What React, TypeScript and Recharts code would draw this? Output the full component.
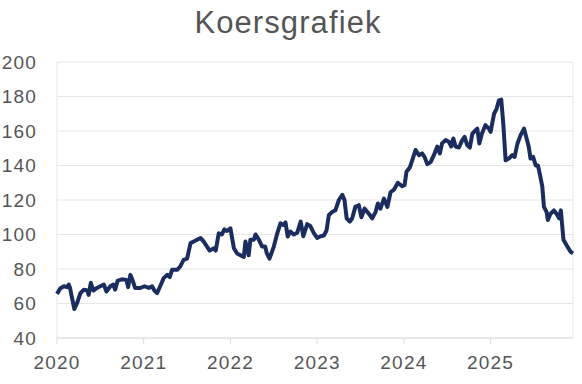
import { CartesianGrid, Line, LineChart, XAxis, YAxis } from "recharts";

// decimal years
const dates = [
  2020.0, 2020.04, 2020.08, 2020.115, 2020.135, 2020.15, 2020.17, 2020.2, 2020.23, 2020.27, 2020.31, 2020.35, 2020.365,
  2020.39, 2020.42, 2020.46, 2020.5, 2020.54, 2020.57, 2020.615, 2020.65, 2020.67, 2020.7, 2020.75, 2020.8, 2020.82,
  2020.846, 2020.877, 2020.9, 2020.96, 2021.008, 2021.058, 2021.096, 2021.123, 2021.154, 2021.19, 2021.23, 2021.27,
  2021.3, 2021.327, 2021.385, 2021.42, 2021.46, 2021.5, 2021.54, 2021.577, 2021.615, 2021.654, 2021.69, 2021.73,
  2021.76, 2021.81, 2021.83, 2021.865, 2021.9, 2021.93, 2021.96, 2022.0, 2022.04, 2022.077, 2022.115, 2022.154,
  2022.173, 2022.21, 2022.23, 2022.27, 2022.29, 2022.327, 2022.365, 2022.4, 2022.42, 2022.45, 2022.5, 2022.54,
  2022.577, 2022.61, 2022.635, 2022.66, 2022.69, 2022.73, 2022.77, 2022.81, 2022.84, 2022.885, 2022.92, 2022.96,
  2023.0, 2023.04, 2023.077, 2023.108, 2023.135, 2023.173, 2023.21, 2023.25, 2023.29, 2023.315, 2023.34, 2023.377,
  2023.404, 2023.44, 2023.48, 2023.51, 2023.546, 2023.596, 2023.635, 2023.673, 2023.7, 2023.73, 2023.77, 2023.81,
  2023.846, 2023.885, 2023.93, 2023.98, 2024.008, 2024.03, 2024.07, 2024.096, 2024.135, 2024.173, 2024.21, 2024.238,
  2024.27, 2024.308, 2024.346, 2024.385, 2024.415, 2024.44, 2024.48, 2024.52, 2024.546, 2024.57, 2024.596, 2024.635,
  2024.673, 2024.7, 2024.73, 2024.76, 2024.79, 2024.827, 2024.846, 2024.87, 2024.9, 2024.94, 2024.98, 2025.0, 2025.04,
  2025.07, 2025.096, 2025.123, 2025.146, 2025.173, 2025.21, 2025.25, 2025.277, 2025.31, 2025.346, 2025.385, 2025.415,
  2025.44, 2025.46, 2025.49, 2025.52, 2025.546, 2025.57, 2025.596, 2025.615, 2025.646, 2025.66, 2025.69, 2025.73,
  2025.76, 2025.79, 2025.81, 2025.84, 2025.885, 2025.92, 2025.95,
];

const prices = [
  65.6, 68.9, 70, 69.5, 71, 69, 64, 56.8, 60, 66, 68, 67.5, 65,
  72, 67.5, 69, 70, 71, 67, 70, 71, 68, 73.3, 74, 73.7, 69.5,
  76.6, 72.7, 69, 69, 70, 69, 70, 67.5, 66, 70, 74.7, 76.6,
  75.3, 79.5, 79.5, 81.4, 85.3, 86, 95, 96, 97, 98, 96, 93,
  90.7, 92, 90.7, 100.7, 100, 103, 102, 103.6, 92, 89, 88, 87,
  96, 88, 97, 97, 100, 97, 93, 93, 89, 86, 93, 100.7,
  106.5, 105.5, 107, 98.8, 101.7, 100, 101, 107.5, 99, 106, 105, 101,
  98, 99, 99.4, 102.3, 111.3, 113, 114, 120, 123, 120, 109.4, 107.5,
  109.4, 116, 117, 110, 115, 112, 109.4, 113, 118, 115, 120.8, 116,
  124.5, 126, 130, 128, 128.7, 136.4, 139, 143, 149, 146, 147, 145,
  140.8, 142, 146, 151, 147, 152.8, 154.7, 153.7, 151, 155.7, 151, 150.4,
  154.7, 156.6, 151.8, 150.4, 158.5, 160.5, 161.4, 152.8, 158.5, 163.4, 161.4, 159.5, 170,
  173, 177.8, 178.2, 164.3, 143, 144, 146, 145, 152.8, 157.6, 161.4, 155.7,
  150.8, 144, 145, 140, 140, 134.4, 127.7, 116, 113, 108.4, 112, 114,
  112, 109.4, 114, 96.9, 93, 90.1, 89.1,
];

const yearTicks = [2020, 2021, 2022, 2023, 2024, 2025];
const valueTicks = [40, 60, 80, 100, 120, 140, 160, 180, 200];

const data = dates.map((t, i) => ({ t, price: prices[i] }));

const font = "'Liberation Sans', Arial, sans-serif";
const tickStyle = { fill: "#555", fontSize: 19, fontFamily: font, letterSpacing: 1.2 };

export default function App() {
  return (
    <div style={{ position: "absolute", left: 0, top: 0, width: 582, height: 384, background: "#fff" }}>
      <div
        style={{
          position: "absolute",
          left: 0,
          top: 5,
          width: 576,
          textAlign: "center",
          fontFamily: font,
          fontSize: 31,
          letterSpacing: 1.1,
          lineHeight: "36px",
          color: "#555",
        }}
      >
        Koersgrafiek
      </div>
      <LineChart width={582} height={384} data={data} margin={{ top: 62, right: 9, bottom: 0, left: 0 }}>
        <CartesianGrid
          stroke="#e6e6e6"
          verticalCoordinatesGenerator={({ offset }: any) => [offset.left, offset.left + offset.width]}
        />
        <XAxis
          dataKey="t"
          type="number"
          domain={[2020, 2025.95]}
          ticks={yearTicks}
          tickFormatter={(v: number) => String(v)}
          axisLine={{ stroke: "#ddd" }}
          tickLine={{ stroke: "#ddd" }}
          tickSize={6}
          tickMargin={12}
          height={46}
          tick={tickStyle}
        />
        <YAxis
          domain={[40, 200]}
          ticks={valueTicks}
          axisLine={false}
          tickLine={false}
          tickSize={0}
          tickMargin={20}
          width={57}
          tick={tickStyle}
        />
        <Line
          type="linear"
          dataKey="price"
          stroke="#1b2d5e"
          strokeWidth={4}
          strokeLinejoin="round"
          dot={false}
          isAnimationActive={false}
        />
      </LineChart>
    </div>
  );
}
